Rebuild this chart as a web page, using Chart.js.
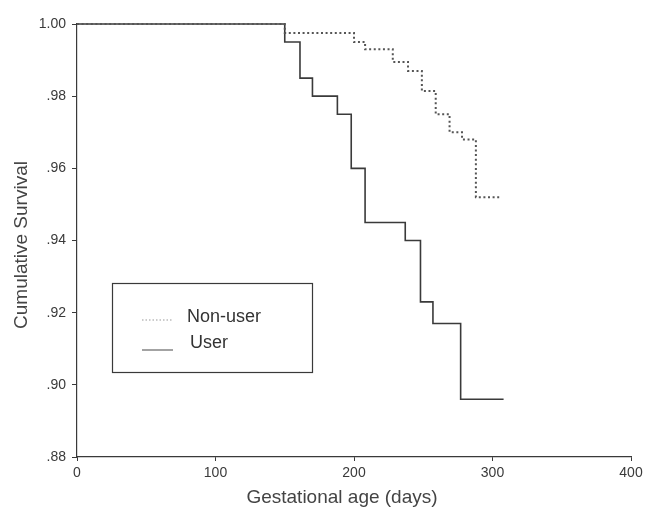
<!DOCTYPE html>
<html>
<head>
<meta charset="utf-8">
<script src="https://cdn.jsdelivr.net/npm/chart.js@4/dist/chart.umd.min.js"></script>
<style>
  html, body { margin: 0; padding: 0; background: #fff; }
  #wrap { width: 647px; height: 514px; position: relative; }
</style>
</head>
<body>
<div id="wrap"><canvas id="myChart"></canvas></div>
<script>

// Kaplan-Meier steps, days vs cumulative survival
const userDays = [0, 150, 161, 170, 188, 198, 208, 237, 248, 257, 277, 308];
const userSurvival = [1.0, 0.995, 0.985, 0.98, 0.975, 0.96, 0.945, 0.94, 0.923, 0.917, 0.896, 0.896];

const nonUserDays = [0, 150, 200, 208, 228, 239, 249, 259, 269, 278, 288, 305];
const nonUserSurvival = [1.0, 0.9975, 0.995, 0.993, 0.9895, 0.987, 0.9814, 0.975, 0.970, 0.968, 0.952, 0.952];

const xTicks = [0, 100, 200, 300, 400];
const yTicks = [0.88, 0.90, 0.92, 0.94, 0.96, 0.98, 1.00];

const xTitle = 'Gestational age (days)';
const yTitle = 'Cumulative Survival';

const toPoints = (xs, ys) => xs.map((x, i) => ({ x: x, y: ys[i] }));

const ink = '#3a3a3a';
const font = "'Liberation Sans', Arial, sans-serif";

// axis titles, drawn by hand so they can sit off-centre
const axisTitles = {
    id: 'axisTitles',
    afterDraw(chart) {
        const ctx = chart.ctx;
        const a = chart.chartArea;
        ctx.save();
        ctx.fillStyle = '#444';
        ctx.font = '19px ' + font;
        ctx.textAlign = 'center';
        ctx.textBaseline = 'middle';
        ctx.fillText(xTitle, a.left + 265, a.bottom + 41);
        ctx.translate(22, a.top + 221);
        ctx.rotate(-Math.PI / 2);
        ctx.fillText(yTitle, 0, 0);
        ctx.restore();
    }
};

// boxed legend sitting inside the plot area
const boxLegend = {
    id: 'boxLegend',
    afterDraw(chart) {
        const ctx = chart.ctx;
        const a = chart.chartArea;
        const x0 = a.left + 35, y0 = a.top + 259, w = 200, h = 89;
        ctx.save();
        ctx.strokeStyle = ink;
        ctx.lineWidth = 1.2;
        ctx.strokeRect(x0 + 0.5, y0 + 0.5, w, h);
        chart.data.datasets.forEach((ds, i) => {
            const ly = y0 + 37 + i * 30;
            ctx.beginPath();
            ctx.strokeStyle = i === 0 ? '#999' : '#666';
            ctx.lineWidth = 1.2;
            ctx.setLineDash(ds.borderDash ? [1.5, 2] : []);
            ctx.moveTo(x0 + 30, ly);
            ctx.lineTo(x0 + 61, ly);
            ctx.stroke();
            ctx.setLineDash([]);
            ctx.fillStyle = '#333';
            ctx.font = '18px ' + font;
            ctx.textBaseline = 'middle';
            ctx.fillText(ds.label, x0 + 75 + i * 3, ly - 3 - i * 4);
        });
        ctx.restore();
    }
};

const data = {
    datasets: [{
        label: 'Non-user',
        data: toPoints(nonUserDays, nonUserSurvival),
        borderColor: '#555',
        borderWidth: 2,
        borderDash: [2, 2.6],
        stepped: 'before',
        pointRadius: 0,
        fill: false,
        clip: false,
    }, {
        label: 'User',
        data: toPoints(userDays, userSurvival),
        borderColor: '#3a3a3a',
        borderWidth: 1.6,
        stepped: 'before',
        pointRadius: 0,
        fill: false,
        clip: false,
    }]
};

const kmOptions = {
    responsive: false,
    animation: false,
    layout: {
        padding: { top: 24, right: 16, bottom: 0, left: 0 }
    },
    plugins: {
        legend: { display: false },
        tooltip: { enabled: false },
    },
    scales: {
        x: {
            type: 'linear',
            min: 0,
            max: 400,
            afterBuildTicks: (scale) => { scale.ticks = xTicks.map(v => ({ value: v })); },
            afterFit: (scale) => { scale.height = 57; },
            border: { color: ink, width: 1.2 },
            grid: { drawOnChartArea: false, drawTicks: true, tickLength: 4, color: ink },
            ticks: { color: '#3a3a3a', font: { family: font, size: 14 }, padding: 4 },
        },
        y: {
            type: 'linear',
            min: 0.88,
            max: 1.0,
            afterBuildTicks: (scale) => { scale.ticks = yTicks.map(v => ({ value: v })); },
            afterFit: (scale) => { scale.width = 77; },
            border: { color: ink, width: 1.2 },
            grid: { drawOnChartArea: false, drawTicks: true, tickLength: 5, color: ink },
            ticks: {
                color: '#3a3a3a',
                font: { family: font, size: 14 },
                padding: 6,
                callback: (v) => v >= 1 ? '1.00' : v.toFixed(2).replace(/^0/, ''),
            },
        }
    }
};

const canvas = document.getElementById('myChart');
canvas.width = 647;
canvas.height = 514;

const myChart = new Chart(canvas, {
    type: 'line',
    data: data,
    options: kmOptions,
    plugins: [axisTitles, boxLegend],
});

</script>
</body>
</html>
